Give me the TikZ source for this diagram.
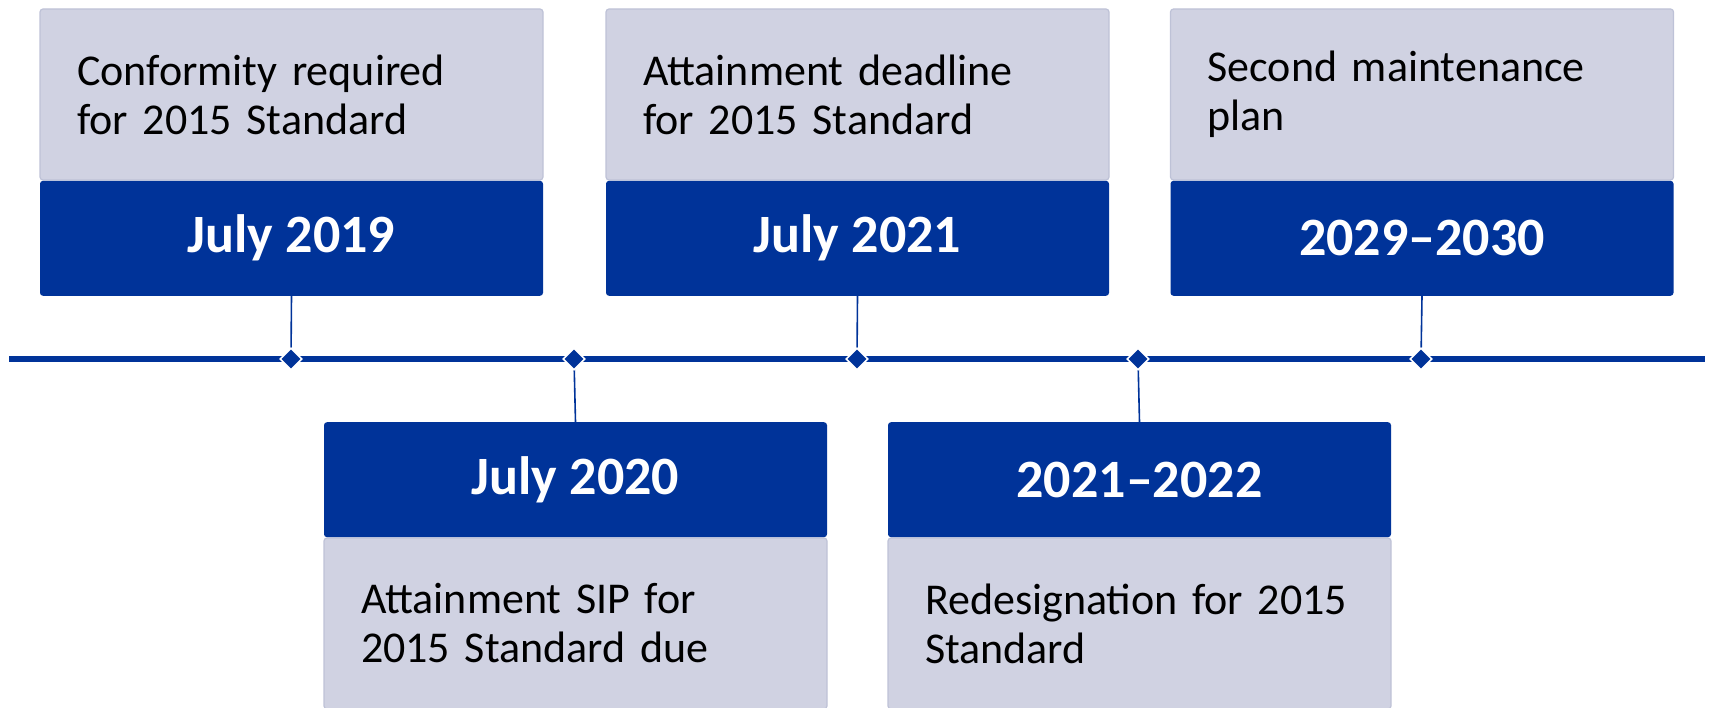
\documentclass[tikz,border=0pt]{standalone}
\usepackage{fontspec}
\setmainfont{Carlito}
\usetikzlibrary{positioning,shapes.geometric}
\definecolor{epaBlue}{RGB}{0,51,153}
\definecolor{noteGray}{RGB}{208,210,226}
\definecolor{noteEdge}{RGB}{190,194,215}
\newcommand{\noteFont}[0]{\fontsize{44}{49}\selectfont}
\newcommand{\dateFont}[0]{\fontsize{54}{60}\selectfont\bfseries}

\begin{document}
\begin{tikzpicture}[x=1pt, y=1pt]
  \tikzset{datebox/.style={rectangle, fill=epaBlue, text=white, rounded corners=3pt,
      minimum width=503pt, minimum height=115pt, inner sep=0pt, font=\dateFont},
    notebox/.style={rectangle, fill=noteGray, draw=noteEdge, line width=1.2pt, rounded corners=3pt,
      minimum width=503pt, minimum height=171pt, text width=429pt, align=left,
      inner xsep=37pt, inner ysep=0pt, font=\noteFont},
    tick/.style={diamond, fill=epaBlue, draw=white, line width=1.6pt, minimum size=22pt, inner sep=0pt},
    stem/.style={draw=epaBlue, line width=1.6pt},
    axis/.style={draw=epaBlue, line width=6pt}}
  \useasboundingbox (0,0) rectangle (1711,707);
  \node[notebox] (n19) at (291.5,612.5) {Conformity required\\for 2015 Standard};
  \node[datebox, below=0pt of n19] (d19) {July 2019};
  \node[notebox] (n21) at (857.5,612.5) {Attainment deadline\\for 2015 Standard};
  \node[datebox, below=0pt of n21] (d21) {July 2021};
  \node[notebox] (n29) at (1422,612.5) {Second maintenance\\plan};
  \node[datebox, below=0pt of n29] (d29) {2029--2030};
  \node[notebox] (n20) at (575.5,83.5) {Attainment SIP for\\2015 Standard due};
  \node[datebox, above=0pt of n20] (d20) {July 2020};
  \node[notebox] (n22) at (1139.5,83.5) {Redesignation for 2015\\Standard};
  \node[datebox, above=0pt of n22] (d22) {2021--2022};
  \coordinate (tl) at (9,348);
  \coordinate (tr) at (1705,348);
  \draw[axis] (tl) -- (tr);
  \coordinate (p19) at (291,348);
  \coordinate (p20) at (574,348);
  \coordinate (p21) at (857,348);
  \coordinate (p22) at (1138,348);
  \coordinate (p29) at (1421,348);
  \draw[stem] (d19.south) -- (p19);
  \draw[stem] (d21.south) -- (p21);
  \draw[stem] (d29.south) -- (p29);
  \draw[stem] (p20) -- (d20.north);
  \draw[stem] (p22) -- (d22.north);
  \foreach \p in {p19,p20,p21,p22,p29}
    \node[tick] (m\p) at (\p) {};
\end{tikzpicture}
\end{document}
